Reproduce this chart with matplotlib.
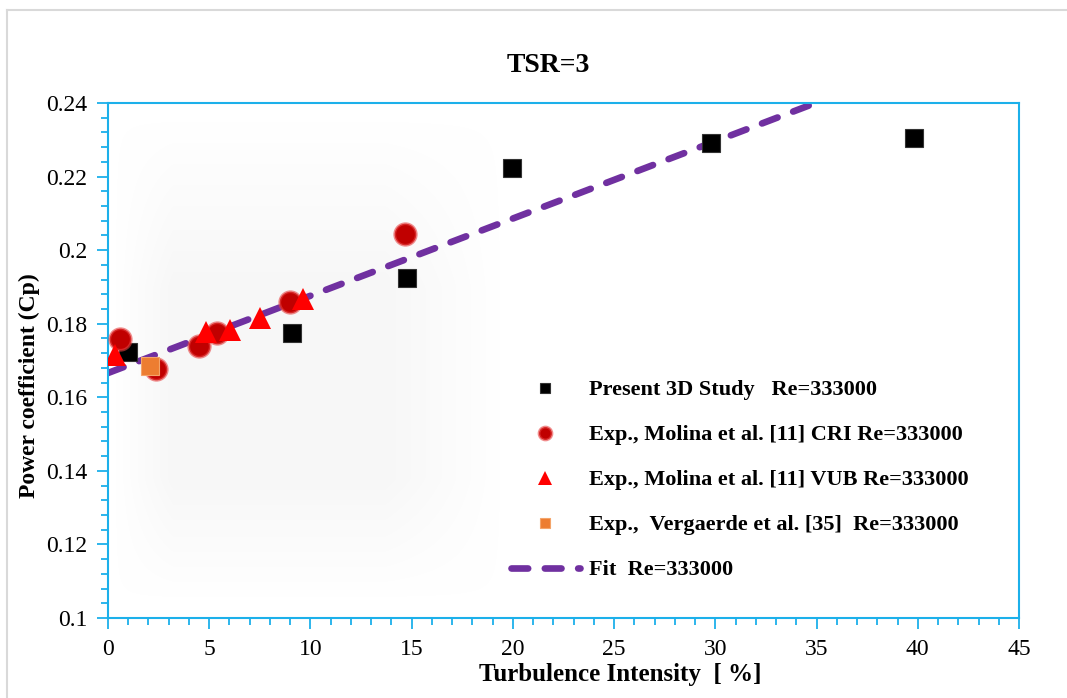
#!/usr/bin/env python

import numpy as np
import matplotlib
matplotlib.use('Agg')
import matplotlib.pyplot as plt
from matplotlib.lines import Line2D
from matplotlib.ticker import MultipleLocator, FuncFormatter

# ----------------------------------------------------------------------
# Cp vs turbulence intensity, TSR = 3
# ----------------------------------------------------------------------

# present 3D study
ti_3d = [1.0, 9.1, 14.75, 19.95, 29.8, 39.8]
cp_3d = [0.1724, 0.1774, 0.1923, 0.2224, 0.2291, 0.2305]

# Molina et al. CRI
ti_cri = [0.6, 2.35, 4.5, 5.4, 9.0, 14.65]
cp_cri = [0.1759, 0.1676, 0.1740, 0.1774, 0.1860, 0.2044]

# Molina et al. VUB
ti_vub = [0.35, 4.85, 6.05, 7.5, 9.65]
cp_vub = [0.1715, 0.1778, 0.1783, 0.1815, 0.1866]

# Vergaerde et al.
ti_ver = [2.05]
cp_ver = [0.1686]

# linear fit
fit_slope = 0.0021
fit_icept = 0.1666
ti_fit = np.array([0.0, 45.0])

labels = ['Present 3D Study   Re=333000',
          'Exp., Molina et al. [11] CRI Re=333000',
          'Exp., Molina et al. [11] VUB Re=333000',
          'Exp.,  Vergaerde et al. [35]  Re=333000',
          'Fit  Re=333000']

if __name__ == "__main__":

    plt.rcParams['font.family'] = ['Liberation Serif', 'DejaVu Serif']
    spine_col = '#1CB0EA'

    fig = plt.figure(figsize=(10.67, 6.98), dpi=100)
    ax = fig.add_axes([108/1067, 1 - 618/698, 911/1067, 515/698])

    # light grey chart-area border
    fig.add_artist(Line2D([7/1067, 7/1067], [0, 1 - 10/698],
                          transform=fig.transFigure, color='#d9d9d9', lw=1.5))
    fig.add_artist(Line2D([7/1067, 1], [1 - 10/698, 1 - 10/698],
                          transform=fig.transFigure, color='#d9d9d9', lw=1.5))

    # faint grey smudge behind the low-TI points
    gx, gy = np.meshgrid(np.linspace(0, 1, 200), np.linspace(0, 1, 200))
    def ramp(v, a, b):
        return np.clip((v - a)/(b - a), 0, 1)
    shade = ramp(gx, 0.0, 0.15)*ramp(1 - gx, 0.0, 0.3) \
        * ramp(gy, 0.0, 0.25)*ramp(1 - gy, 0.0, 0.35)
    rgba = np.zeros((200, 200, 4))
    rgba[..., :3] = 0.88
    rgba[..., 3] = 0.25*shade
    ax.imshow(rgba, extent=[0.3, 19.5, 0.105, 0.236], origin='lower',
              aspect='auto', zorder=0, interpolation='bilinear')

    # fit line
    ax.plot(ti_fit, fit_icept + fit_slope*ti_fit, color='#7030A0', lw=4.8,
            dashes=(2.5, 2.5), dash_capstyle='round', zorder=2, label=labels[4])

    ax.plot(ti_3d, cp_3d, 's', color='black', mec='#333333', mew=0.8,
            ms=13, zorder=3, label=labels[0])
    ax.plot(ti_cri, cp_cri, 'o', color='#C00000', mec=(0.9, 0.25, 0.25, 0.6),
            mew=2, ms=15.5, zorder=4, label=labels[1])
    ax.plot(ti_vub, cp_vub, '^', color='#FF0000', ms=16, mew=0, zorder=5,
            label=labels[2])
    ax.plot(ti_ver, cp_ver, 's', color='#ED7D31', mec='#F4A46A', mew=0.8,
            ms=13, zorder=6, label=labels[3])

    ax.set_xlim(0, 45)
    ax.set_ylim(0.1, 0.24)
    ax.xaxis.set_major_locator(MultipleLocator(5))
    ax.xaxis.set_minor_locator(MultipleLocator(1))
    ax.yaxis.set_major_locator(MultipleLocator(0.02))
    ax.yaxis.set_minor_locator(MultipleLocator(0.004))
    ax.yaxis.set_major_formatter(FuncFormatter(lambda v, p: '%g' % round(v, 3)))

    for s in ax.spines.values():
        s.set_color(spine_col)
        s.set_linewidth(1.5)
    ax.tick_params(which='both', direction='out', color=spine_col, width=1.3,
                   labelsize=17, labelcolor='black')
    ax.tick_params(which='major', length=8, pad=7)
    ax.tick_params(which='minor', length=5)

    ax.set_xlabel('Turbulence Intensity  [ %]', fontsize=18,
                  fontweight='bold', x=0.562, labelpad=2)
    ax.set_ylabel('Power coefficient (Cp)', fontsize=17,
                  fontweight='bold', y=0.452, labelpad=4)
    fig.text(548/1067, 1 - 66/698, 'TSR=3', fontsize=20, fontweight='bold',
             ha='center', va='center')

    h, l = ax.get_legend_handles_labels()
    order = [1, 2, 3, 4, 0]
    leg = ax.legend([h[i] for i in order], [l[i] for i in order],
                    loc='upper left', bbox_to_anchor=(0.43, 0.484),
                    frameon=False, markerscale=0.6, handlelength=3.1,
                    handletextpad=0.4, labelspacing=1.1, borderpad=0,
                    prop={'weight': 'bold', 'size': 16})

    plotfile = 'out.png'
    print('writing : ', plotfile)
    fig.savefig(plotfile, dpi=100)
